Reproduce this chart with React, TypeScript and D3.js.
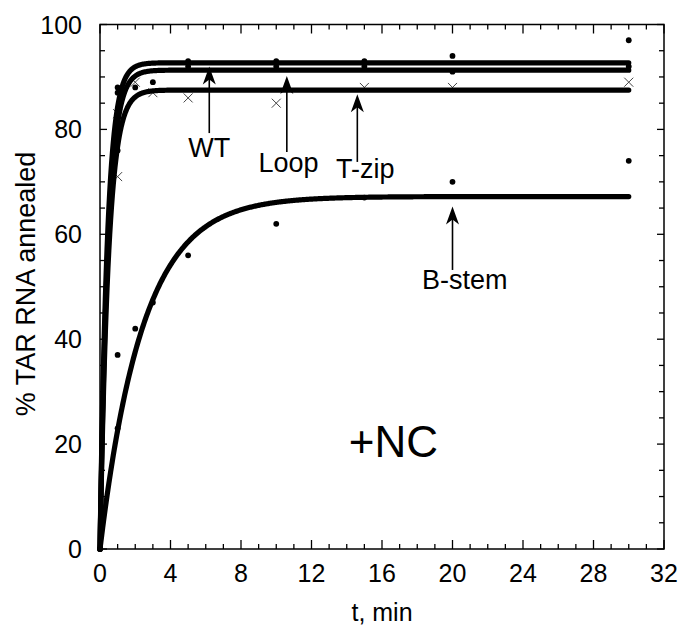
import React from "react";
import * as d3 from "d3";

// ---- data ----
const xTicks = [0, 4, 8, 12, 16, 20, 24, 28, 32];
const yTicks = [0, 20, 40, 60, 80, 100];

// fitted curves: plateau (%) and rate (1/min)
const curveNames = ["WT", "Loop", "T-zip", "B-stem"];
const curvePlateaus = [92.7, 91.3, 87.5, 67.2];
const curveRates = [2.4, 2.2, 2.1, 0.41];

// filled-circle data points [t, %]
const dotsWT: [number, number][] = [
  [0, 0], [1, 88], [2, 88], [3, 89], [5, 93], [10, 93], [15, 93], [20, 94], [30, 97],
];
const dotsLoop: [number, number][] = [
  [1, 87], [1, 76], [5, 92], [10, 92], [15, 92], [20, 91], [30, 92],
];
const dotsBstem: [number, number][] = [
  [0, 0], [1, 23], [1, 37], [2, 42], [3, 47], [5, 56], [10, 62], [15, 67], [20, 70], [30, 74],
];
// cross data points (T-zip)
const crossesTzip: [number, number][] = [
  [1, 71], [1, 83], [2, 89], [3, 87], [5, 86], [10, 85], [15, 88], [20, 88], [30, 89],
];

// annotations: label, arrow x, arrow base, arrow tip, label x, label baseline (data units)
const annLabels = ["WT", "Loop", "T-zip", "B-stem"];
const annArrowX = [6.2, 10.6, 14.6, 20.0];
const annArrowFrom = [79.3, 75.7, 73.8, 53.2];
const annArrowTo = [92.0, 90.2, 86.7, 65.3];
const annTextX = [6.2, 10.7, 15.05, 20.7];
const annTextY = [74.8, 71.9, 70.7, 49.5];

const W = 688;
const H = 626;
const FONT = "'Liberation Sans', Arial, Helvetica, sans-serif";

export default function App() {
  const x = d3.scaleLinear().domain([0, 32]).range([100, 664]);
  const y = d3.scaleLinear().domain([0, 100]).range([549, 24.5]);

  const ts = d3.range(0, 30.0001, 0.05);

  const curvePaths = curveNames.map((_, i) => {
    const A = curvePlateaus[i];
    const k = curveRates[i];
    const l = d3
      .line<number>()
      .x((t) => x(t))
      .y((t) => y(A * (1 - Math.exp(-k * t))));
    return l(ts) as string;
  });

  const xMinor = d3.range(0, 33, 1);
  const yMinor = d3.range(0, 101, 5);

  const [x0, x1] = x.range();
  const [y0, y1] = y.range();

  const allDots = [...dotsWT, ...dotsLoop, ...dotsBstem];

  return (
    <svg width={W} height={H} style={{ position: "absolute", left: 0, top: 0, background: "#fff" }}>
      <rect x={0} y={0} width={W} height={H} fill="#fff" />
      {/* ticks */}
      <g stroke="#000" strokeWidth={1.3}>
        {xMinor.map((t) => {
          const major = t % 4 === 0;
          const len = major ? 9 : 5;
          return (
            <g key={"xt" + t}>
              <line x1={x(t)} x2={x(t)} y1={y0} y2={y0 - len} />
              <line x1={x(t)} x2={x(t)} y1={y1} y2={y1 + len} />
            </g>
          );
        })}
        {yMinor.map((v) => {
          const major = v % 20 === 0;
          const len = major ? 7 : 5;
          return (
            <g key={"yt" + v}>
              <line x1={x0} x2={x0 + len} y1={y(v)} y2={y(v)} />
              <line x1={x1} x2={x1 - len} y1={y(v)} y2={y(v)} />
            </g>
          );
        })}
      </g>
      {/* frame */}
      <rect x={x0} y={y1} width={x1 - x0} height={y0 - y1} fill="none" stroke="#000" strokeWidth={1.5} />

      {/* tick labels */}
      <g fontFamily={FONT} fontSize={25} fill="#000">
        {xTicks.map((t) => (
          <text key={"xl" + t} x={x(t)} y={582} textAnchor="middle">
            {t}
          </text>
        ))}
        {yTicks.map((v) => (
          <text key={"yl" + v} x={82} y={y(v)} textAnchor="end" dominantBaseline="central">
            {v}
          </text>
        ))}
      </g>

      {/* axis titles */}
      <text x={382} y={621} textAnchor="middle" fontFamily={FONT} fontSize={25}>
        t, min
      </text>
      <text
        transform={`translate(35,284) rotate(-90)`}
        textAnchor="middle"
        fontFamily={FONT}
        fontSize={27}
      >
        % TAR RNA annealed
      </text>

      {/* crosses */}
      <g stroke="#444" strokeWidth={1}>
        {crossesTzip.map(([t, v], i) => (
          <path
            key={"cx" + i}
            d={`M${x(t) - 4.5},${y(v) - 4.5}L${x(t) + 4.5},${y(v) + 4.5}M${x(t) - 4.5},${y(v) + 4.5}L${x(t) + 4.5},${y(v) - 4.5}`}
          />
        ))}
      </g>

      {/* fitted curves */}
      <g fill="none" stroke="#000" strokeWidth={5.2} strokeLinecap="round" strokeLinejoin="round">
        {curvePaths.map((d, i) => (
          <path key={"c" + i} d={d} />
        ))}
      </g>

      {/* dots */}
      <g fill="#000">
        {allDots.map(([t, v], i) => (
          <circle key={"d" + i} cx={x(t)} cy={y(v)} r={2.9} />
        ))}
      </g>

      {/* annotations */}
      <g>
        {annLabels.map((lab, i) => {
          const ax = x(annArrowX[i]);
          const ya = y(annArrowFrom[i]);
          const yb = y(annArrowTo[i]);
          return (
            <g key={"a" + i}>
              <line x1={ax} x2={ax} y1={ya} y2={yb + 10} stroke="#000" strokeWidth={1.6} />
              <path
                d={`M${ax},${yb} L${ax - 6.5},${yb + 18} L${ax},${yb + 13} L${ax + 6.5},${yb + 18} Z`}
                fill="#000"
              />
              <text
                x={x(annTextX[i])}
                y={y(annTextY[i])}
                textAnchor="middle"
                fontFamily={FONT}
                fontSize={27}
              >
                {lab}
              </text>
            </g>
          );
        })}
      </g>

      <text x={x(16.65)} y={y(17.6)} textAnchor="middle" fontFamily={FONT} fontSize={44}>
        +NC
      </text>
    </svg>
  );
}
